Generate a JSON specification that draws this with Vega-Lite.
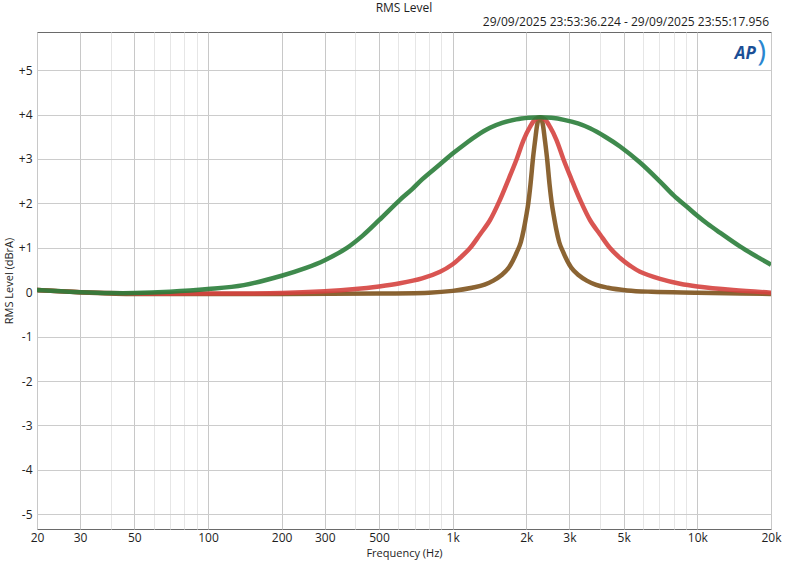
{
  "$schema": "https://vega.github.io/schema/vega-lite/v6.json",
  "width": 734,
  "height": 497,
  "autosize": {"type": "none"},
  "padding": {"left": 37, "top": 32, "right": 26, "bottom": 32},
  "background": "white",
  "config": {
    "font": "Open Sans",
    "view": {"stroke": "#6a6a6a", "strokeWidth": 1},
    "axis": {"labelColor": "#1e1e1e", "titleColor": "#1e1e1e", "labelFont": "Open Sans", "titleFont": "Open Sans"}
  },
  "title": {"text": "RMS Level", "anchor": "middle", "fontSize": 12, "fontWeight": "normal", "color": "#1e1e1e", "font": "Open Sans", "offset": 1},
  "datasets": {
    "curves": [
      {"f": 20, "v": 0.05, "s": "brown"}, {"f": 30, "v": 0.0, "s": "brown"}, {"f": 50, "v": -0.04, "s": "brown"}, {"f": 100, "v": -0.04, "s": "brown"}, {"f": 200, "v": -0.04, "s": "brown"}, {"f": 500, "v": -0.03, "s": "brown"}, {"f": 800, "v": -0.01, "s": "brown"}, {"f": 1000, "v": 0.03, "s": "brown"}, {"f": 1200, "v": 0.1, "s": "brown"}, {"f": 1350, "v": 0.17, "s": "brown"}, {"f": 1466, "v": 0.26, "s": "brown"}, {"f": 1580, "v": 0.38, "s": "brown"}, {"f": 1700, "v": 0.56, "s": "brown"}, {"f": 1829, "v": 0.9, "s": "brown"}, {"f": 1900, "v": 1.13, "s": "brown"}, {"f": 1950, "v": 1.4, "s": "brown"}, {"f": 2000, "v": 1.73, "s": "brown"}, {"f": 2037, "v": 2.0, "s": "brown"}, {"f": 2080, "v": 2.43, "s": "brown"}, {"f": 2131, "v": 3.03, "s": "brown"}, {"f": 2175, "v": 3.44, "s": "brown"}, {"f": 2210, "v": 3.74, "s": "brown"}, {"f": 2240, "v": 3.88, "s": "brown"}, {"f": 2275, "v": 3.93, "s": "brown"}, {"f": 2311, "v": 3.88, "s": "brown"}, {"f": 2342, "v": 3.74, "s": "brown"}, {"f": 2380, "v": 3.44, "s": "brown"}, {"f": 2429, "v": 3.03, "s": "brown"}, {"f": 2488, "v": 2.43, "s": "brown"}, {"f": 2541, "v": 2.0, "s": "brown"}, {"f": 2588, "v": 1.73, "s": "brown"}, {"f": 2654, "v": 1.4, "s": "brown"}, {"f": 2724, "v": 1.13, "s": "brown"}, {"f": 2830, "v": 0.9, "s": "brown"}, {"f": 3045, "v": 0.56, "s": "brown"}, {"f": 3276, "v": 0.38, "s": "brown"}, {"f": 3530, "v": 0.26, "s": "brown"}, {"f": 3834, "v": 0.17, "s": "brown"}, {"f": 4313, "v": 0.1, "s": "brown"}, {"f": 5175, "v": 0.04, "s": "brown"}, {"f": 6500, "v": 0.01, "s": "brown"}, {"f": 10000, "v": -0.01, "s": "brown"}, {"f": 20000, "v": -0.04, "s": "brown"},
      {"f": 20, "v": 0.05, "s": "red"}, {"f": 30, "v": 0.0, "s": "red"}, {"f": 50, "v": -0.03, "s": "red"}, {"f": 100, "v": -0.03, "s": "red"}, {"f": 200, "v": -0.02, "s": "red"}, {"f": 300, "v": 0.02, "s": "red"}, {"f": 400, "v": 0.07, "s": "red"}, {"f": 500, "v": 0.13, "s": "red"}, {"f": 609, "v": 0.2, "s": "red"}, {"f": 750, "v": 0.31, "s": "red"}, {"f": 888, "v": 0.46, "s": "red"}, {"f": 1000, "v": 0.63, "s": "red"}, {"f": 1071, "v": 0.77, "s": "red"}, {"f": 1180, "v": 1.0, "s": "red"}, {"f": 1293, "v": 1.3, "s": "red"}, {"f": 1420, "v": 1.62, "s": "red"}, {"f": 1561, "v": 2.08, "s": "red"}, {"f": 1700, "v": 2.57, "s": "red"}, {"f": 1827, "v": 3.0, "s": "red"}, {"f": 1950, "v": 3.43, "s": "red"}, {"f": 2070, "v": 3.72, "s": "red"}, {"f": 2175, "v": 3.89, "s": "red"}, {"f": 2275, "v": 3.93, "s": "red"}, {"f": 2380, "v": 3.89, "s": "red"}, {"f": 2500, "v": 3.72, "s": "red"}, {"f": 2654, "v": 3.43, "s": "red"}, {"f": 2833, "v": 3.0, "s": "red"}, {"f": 3044, "v": 2.57, "s": "red"}, {"f": 3316, "v": 2.08, "s": "red"}, {"f": 3645, "v": 1.62, "s": "red"}, {"f": 4003, "v": 1.3, "s": "red"}, {"f": 4386, "v": 1.0, "s": "red"}, {"f": 4832, "v": 0.77, "s": "red"}, {"f": 5300, "v": 0.6, "s": "red"}, {"f": 5828, "v": 0.46, "s": "red"}, {"f": 7040, "v": 0.3, "s": "red"}, {"f": 8500, "v": 0.19, "s": "red"}, {"f": 10000, "v": 0.13, "s": "red"}, {"f": 14000, "v": 0.05, "s": "red"}, {"f": 20000, "v": -0.01, "s": "red"},
      {"f": 20, "v": 0.05, "s": "green"}, {"f": 25, "v": 0.02, "s": "green"}, {"f": 30, "v": 0.0, "s": "green"}, {"f": 40, "v": -0.02, "s": "green"}, {"f": 50, "v": -0.02, "s": "green"}, {"f": 70, "v": 0.01, "s": "green"}, {"f": 100, "v": 0.07, "s": "green"}, {"f": 140, "v": 0.16, "s": "green"}, {"f": 200, "v": 0.37, "s": "green"}, {"f": 250, "v": 0.54, "s": "green"}, {"f": 300, "v": 0.72, "s": "green"}, {"f": 370, "v": 1.0, "s": "green"}, {"f": 430, "v": 1.28, "s": "green"}, {"f": 500, "v": 1.62, "s": "green"}, {"f": 609, "v": 2.08, "s": "green"}, {"f": 683, "v": 2.32, "s": "green"}, {"f": 750, "v": 2.54, "s": "green"}, {"f": 888, "v": 2.88, "s": "green"}, {"f": 1000, "v": 3.12, "s": "green"}, {"f": 1138, "v": 3.36, "s": "green"}, {"f": 1250, "v": 3.52, "s": "green"}, {"f": 1421, "v": 3.7, "s": "green"}, {"f": 1593, "v": 3.81, "s": "green"}, {"f": 1820, "v": 3.89, "s": "green"}, {"f": 2048, "v": 3.925, "s": "green"}, {"f": 2275, "v": 3.94, "s": "green"}, {"f": 2530, "v": 3.925, "s": "green"}, {"f": 2850, "v": 3.88, "s": "green"}, {"f": 3250, "v": 3.8, "s": "green"}, {"f": 3640, "v": 3.69, "s": "green"}, {"f": 4200, "v": 3.5, "s": "green"}, {"f": 4830, "v": 3.28, "s": "green"}, {"f": 5830, "v": 2.92, "s": "green"}, {"f": 7040, "v": 2.49, "s": "green"}, {"f": 8000, "v": 2.18, "s": "green"}, {"f": 9040, "v": 1.93, "s": "green"}, {"f": 10000, "v": 1.72, "s": "green"}, {"f": 11000, "v": 1.54, "s": "green"}, {"f": 12370, "v": 1.34, "s": "green"}, {"f": 14930, "v": 1.03, "s": "green"}, {"f": 17500, "v": 0.8, "s": "green"}, {"f": 20000, "v": 0.62, "s": "green"}
    ],
    "notes": [
      {"t": "29/09/2025 23:53:36.224 - 29/09/2025 23:55:17.956"}
    ]
  },
  "layer": [
    {
      "data": {"name": "curves"},
      "transform": [{"filter": "datum.s === 'brown'"}],
      "mark": {"type": "line", "strokeWidth": 4.5, "opacity": 0.9, "interpolate": "monotone", "clip": true},
      "encoding": {
        "x": {
          "field": "f", "type": "quantitative",
          "scale": {"type": "log", "domain": [20, 20000], "nice": false},
          "axis": {
            "title": "Frequency (Hz)",
            "values": [20, 30, 40, 50, 60, 70, 80, 90, 100, 200, 300, 400, 500, 600, 700, 800, 900, 1000, 2000, 3000, 4000, 5000, 6000, 7000, 8000, 9000, 10000, 20000],
            "labelExpr": "indexof([20,30,50,100,200,300,500,1000,2000,3000,5000,10000,20000], datum.value) >= 0 ? (datum.value >= 1000 ? (datum.value/1000) + 'k' : '' + datum.value) : ''",
            "gridColor": {"condition": {"test": "indexof([20,30,50,100,200,300,500,1000,2000,3000,5000,10000,20000], datum.value) >= 0", "value": "#c8c8c8"}, "value": "#e6e6e6"},
            "ticks": false,
            "domain": false,
            "labelFlush": false,
            "labelOverlap": false,
            "labelFontSize": 12,
            "labelPadding": 3,
            "titleFontSize": 11,
            "titleFontWeight": "normal",
            "titlePadding": 4
          }
        },
        "y": {
          "field": "v", "type": "quantitative",
          "scale": {"domain": [-5.33, 5.857], "nice": false, "zero": false},
          "axis": {
            "title": "RMS Level (dBrA)",
            "values": [-5, -4, -3, -2, -1, 0, 1, 2, 3, 4, 5],
            "labelExpr": "datum.value > 0 ? '+' + datum.value : '' + datum.value",
            "gridColor": "#cccccc",
            "ticks": false,
            "domain": false,
            "labelFontSize": 12,
            "labelPadding": 5,
            "titleFontSize": 11,
            "titleFontWeight": "normal",
            "titlePadding": 4
          }
        },
        "color": {"field": "s", "type": "nominal", "scale": {"domain": ["brown", "red", "green"], "range": ["#7e531d", "#d5423f", "#2a7d3a"]}, "legend": null}
      }
    },
    {
      "data": {"name": "curves"},
      "transform": [{"filter": "datum.s === 'red'"}],
      "mark": {"type": "line", "strokeWidth": 4.5, "opacity": 0.9, "interpolate": "catmull-rom", "clip": true},
      "encoding": {
        "x": {"field": "f", "type": "quantitative"},
        "y": {"field": "v", "type": "quantitative"},
        "color": {"field": "s", "type": "nominal", "legend": null}
      }
    },
    {
      "data": {"name": "curves"},
      "transform": [{"filter": "datum.s === 'green'"}],
      "mark": {"type": "line", "strokeWidth": 4.5, "opacity": 0.9, "interpolate": "catmull-rom", "clip": true},
      "encoding": {
        "x": {"field": "f", "type": "quantitative"},
        "y": {"field": "v", "type": "quantitative"},
        "color": {"field": "s", "type": "nominal", "legend": null}
      }
    },
    {
      "data": {"name": "notes"},
      "mark": {"type": "text", "align": "right", "baseline": "middle", "fontSize": 12, "color": "#1e1e1e", "dx": -2, "font": "Open Sans"},
      "encoding": {
        "x": {"datum": 20000, "type": "quantitative"},
        "y": {"datum": 6.08, "type": "quantitative"},
        "text": {"field": "t"}
      }
    },
    {
      "data": {"values": [{"t": "AP"}]},
      "mark": {"type": "text", "align": "center", "baseline": "middle", "fontSize": 17, "fontWeight": "bold", "fontStyle": "italic", "color": "#1b4f96", "font": "Open Sans"},
      "encoding": {
        "x": {"datum": 15700, "type": "quantitative"},
        "y": {"datum": 5.36, "type": "quantitative"},
        "text": {"field": "t"}
      }
    },
    {
      "data": {"values": [{"t": ")"}]},
      "mark": {"type": "text", "align": "center", "baseline": "middle", "fontSize": 30, "color": "#2a86d0", "font": "Open Sans"},
      "encoding": {
        "x": {"datum": 18300, "type": "quantitative"},
        "y": {"datum": 5.4, "type": "quantitative"},
        "text": {"field": "t"}
      }
    }
  ]
}
